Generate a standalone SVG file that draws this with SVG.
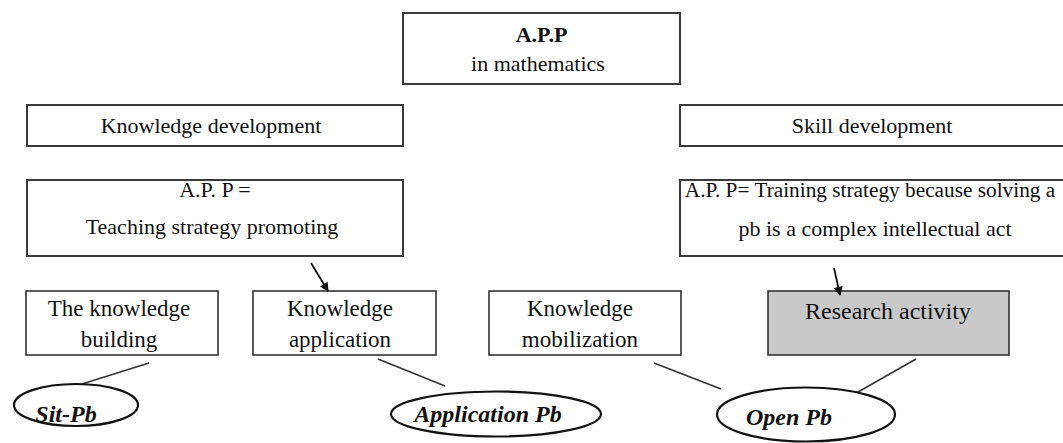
<svg xmlns="http://www.w3.org/2000/svg" width="1063" height="443" viewBox="0 0 1063 443" font-family="'Liberation Serif', 'Times New Roman', 'DejaVu Serif', serif">
<defs>
<style>
.box{fill:#fff;stroke:#3a3a3a;stroke-width:2}
.sbox{fill:#fff;stroke:#333;stroke-width:1.6}
.gray{fill:#c9c9c9;stroke:#333;stroke-width:1.6}
.ell{fill:#fff;stroke:#111;stroke-width:2.2}
text{font-family:'Liberation Serif','Times New Roman',serif}
.t{font-size:22px;fill:#111;text-anchor:middle}
.m{font-size:23px}
.b{font-weight:bold}
.bi{font-size:24px;font-weight:bold;font-style:italic;fill:#111;text-anchor:middle}
.ln{stroke:#333;stroke-width:1.5;fill:none}
.ar{stroke:#111;stroke-width:1.8;fill:none;marker-end:url(#ah)}
</style>
<marker id="ah" viewBox="0 0 10 10" refX="9" refY="5" markerWidth="10" markerHeight="9" orient="auto" markerUnits="userSpaceOnUse">
<path d="M0,0 L10,5 L0,10 z" fill="#111"/>
</marker>
</defs>
<rect width="1063" height="443" fill="#fff"/>

<g id="app">
<rect class="box" x="403" y="13" width="277" height="71"/>
<text class="t b" x="541.5" y="42" font-size="24">A.P.P</text>
<text class="t" x="538" y="71">in mathematics</text>
</g>

<g id="knowledge-dev">
<rect class="box" x="27" y="105" width="376" height="41"/>
<text class="t" x="211" y="133">Knowledge development</text>
</g>

<g id="skill-dev">
<rect class="box" x="680" y="105" width="386" height="41"/>
<text class="t" x="872" y="133">Skill development</text>
</g>

<g id="teaching">
<rect class="box" x="27" y="180" width="376" height="76"/>
<text class="t" x="215" y="197">A.P. P =</text>
<text class="t" x="212" y="234">Teaching strategy promoting</text>
</g>

<g id="training">
<rect class="box" x="680" y="180" width="386" height="76"/>
<text class="t" x="870" y="197" style="font-size:21.3px">A.P. P= Training strategy because solving a</text>
<text class="t" x="875" y="236">pb is a complex intellectual act</text>
</g>

<g id="building">
<rect class="sbox" x="26" y="291" width="192" height="64"/>
<text class="t m" x="119" y="316">The knowledge</text>
<text class="t m" x="119" y="347">building</text>
</g>

<g id="application">
<rect class="sbox" x="253" y="291" width="183" height="64"/>
<text class="t m" x="340" y="316">Knowledge</text>
<text class="t m" x="340" y="347">application</text>
</g>

<g id="mobilization">
<rect class="sbox" x="489" y="291" width="192" height="64"/>
<text class="t m" x="580" y="316">Knowledge</text>
<text class="t m" x="580" y="347">mobilization</text>
</g>

<g id="research">
<rect class="gray" x="768" y="291" width="241" height="64"/>
<text class="t" x="888" y="319" style="font-size:24px">Research activity</text>
</g>

<g id="connectors">
<path class="ar" d="M311,263 L328,291"/>
<path class="ar" d="M834,268 L840,295"/>
<path class="ln" d="M149,363 L82,384"/>
<path class="ln" d="M378,359 L445,386"/>
<path class="ln" d="M654,363 L721,389"/>
<path class="ln" d="M916,359 L851,396"/>
</g>

<g id="sit-pb">
<ellipse class="ell" cx="76" cy="405" rx="62" ry="21"/>
<text class="bi" x="66" y="422">Sit-Pb</text>
</g>

<g id="application-pb">
<ellipse class="ell" cx="496" cy="414" rx="105" ry="22.5"/>
<text class="bi" x="488" y="422">Application Pb</text>
</g>

<g id="open-pb">
<ellipse class="ell" cx="806" cy="414.5" rx="89" ry="27"/>
<text class="bi" x="789" y="425">Open Pb</text>
</g>
</svg>
